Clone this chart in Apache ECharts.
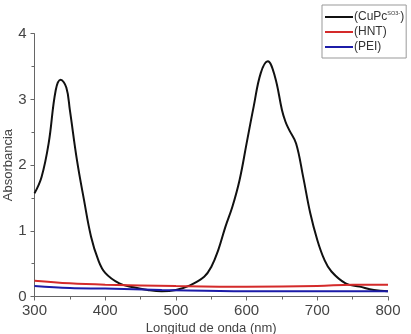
<!DOCTYPE html>
<html>
<head>
<meta charset="utf-8">
<script src="https://cdn.jsdelivr.net/npm/echarts@6/dist/echarts.min.js"></script>
<style>html,body{margin:0;padding:0;background:#fff}#c{width:411px;height:334px}</style>
</head>
<body>
<div id="c"></div>
<script>
const seriesNames = ['(CuPc)', '(HNT)', '(PEI)'];
const cupcX = [300,310,320,330,337,345,350,360,370,380,390,400,420,440,460,480,500,520,540,550,560,570,580,590,600,610,620,630,640,650,655,660,670,680,690,700,710,720,740,760,780,800];
const cupcY = [1.57,1.82,2.33,3.14,3.30,3.18,2.84,2.08,1.47,0.91,0.56,0.36,0.20,0.14,0.10,0.08,0.10,0.17,0.30,0.45,0.71,1.06,1.37,1.77,2.33,2.89,3.40,3.58,3.35,2.84,2.66,2.54,2.33,1.82,1.27,0.86,0.56,0.38,0.20,0.15,0.10,0.08];
const hntX = [300,350,400,500,600,700,750,800];
const hntY = [0.24,0.20,0.18,0.16,0.15,0.16,0.18,0.18];
const peiX = [300,350,400,480,600,700,800];
const peiY = [0.16,0.13,0.12,0.10,0.08,0.08,0.08];
const xTicks = [300,400,500,600,700,800];
const yTicks = [0,1,2,3,4];

const zip = (xs, ys) => xs.map((x, i) => [x, ys[i]]);
const chart = echarts.init(document.getElementById('c'));
const axisTxt = {color:'#444', fontSize:15, fontFamily:'Liberation Sans'};
chart.setOption({
  animation:false,
  grid:{left:34.5, right:23, top:33.7, bottom:37.5, containLabel:false, outerBoundsMode:'none'},
  legend:{
    orient:'vertical', left:322, top:5,
    borderColor:'#999', borderWidth:1, padding:[5,2,5,3],
    itemWidth:28, itemHeight:2, itemGap:3, icon:'rect',
    data: seriesNames,
    formatter: n => n === '(CuPc)' ? '(CuPc{sup|SO3-}' + ')' : n,
    textStyle:{color:'#333', fontSize:12, fontFamily:'Liberation Sans', padding:[0,0,0,-4],
      rich:{sup:{fontSize:5.5, verticalAlign:'top', padding:[0,0,8,0], color:'#333'}}}
  },
  xAxis:{
    type:'value', min:xTicks[0], max:xTicks[xTicks.length-1], interval:100,
    name:'Longitud de onda (nm)', nameLocation:'middle', nameGap:25, nameMoveOverlap:false,
    nameTextStyle:{color:'#444', fontSize:13, fontFamily:'Liberation Sans'},
    axisLine:{show:true, lineStyle:{color:'#666', width:1}},
    axisTick:{show:true, length:4, lineStyle:{color:'#666'}},
    minorTick:{show:true, splitNumber:2, length:3, lineStyle:{color:'#666'}},
    splitLine:{show:false},
    axisLabel:Object.assign({margin:7}, axisTxt)
  },
  yAxis:{
    type:'value', min:yTicks[0], max:yTicks[yTicks.length-1], interval:1,
    name:'Absorbancia', nameLocation:'middle', nameGap:20, nameRotate:90, nameMoveOverlap:false,
    nameTextStyle:{color:'#444', fontSize:13, fontFamily:'Liberation Sans'},
    axisLine:{show:true, lineStyle:{color:'#666', width:1}},
    axisTick:{show:true, length:4, lineStyle:{color:'#666'}},
    minorTick:{show:true, splitNumber:2, length:3, lineStyle:{color:'#666'}},
    splitLine:{show:false},
    axisLabel:Object.assign({margin:8}, axisTxt)
  },
  series:[
    {name:seriesNames[0], type:'line', data:zip(cupcX,cupcY), smooth:0.4, symbol:'none', lineStyle:{color:'#111', width:2}, itemStyle:{color:'#111'}},
    {name:seriesNames[1], type:'line', data:zip(hntX,hntY), smooth:0.4, symbol:'none', lineStyle:{color:'#d42a2a', width:2}, itemStyle:{color:'#d42a2a'}},
    {name:seriesNames[2], type:'line', data:zip(peiX,peiY), smooth:0.4, symbol:'none', lineStyle:{color:'#1c1ca8', width:2}, itemStyle:{color:'#1c1ca8'}}
  ]
});
</script>
</body>
</html>
